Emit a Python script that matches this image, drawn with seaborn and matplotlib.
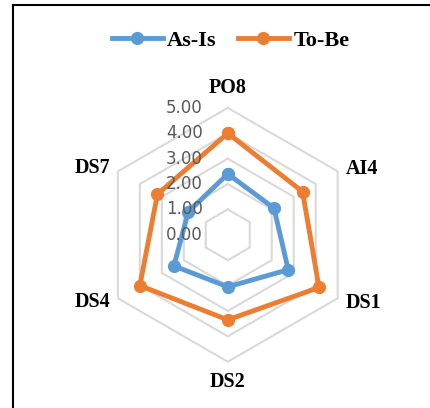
import numpy as np
import pandas as pd
import matplotlib
matplotlib.use("Agg")
import matplotlib.pyplot as plt
from matplotlib.lines import Line2D
import seaborn as sns

# data
categories = ["PO8", "AI4", "DS1", "DS2", "DS4", "DS7"]
as_is = [2.4, 2.1, 2.75, 2.05, 2.45, 1.8]
to_be = [4.0, 3.4, 4.15, 3.35, 4.0, 3.2]
r_ticks = [0, 1, 2, 3, 4, 5]
series_names = ["As-Is", "To-Be"]
series_colors = ["#5B9BD5", "#ED7D31"]

n = len(categories)
theta = np.linspace(0, 2 * np.pi, n, endpoint=False)
theta_closed = np.append(theta, 2 * np.pi)

rows = []
for name, vals in zip(series_names, [as_is, to_be]):
    for t, v in zip(theta_closed, vals + vals[:1]):
        rows.append({"series": name, "theta": t, "value": v})
df = pd.DataFrame(rows)

fig = plt.figure(figsize=(4.31, 4.08), dpi=100)
ax = fig.add_axes([0.234, 0.113, 0.589, 0.623], projection="polar")
ax.set_theta_zero_location("N")
ax.set_theta_direction(-1)
ax.grid(False)
ax.spines["polar"].set_visible(False)
ax.patch.set_alpha(0)

# hexagonal grid
for r in r_ticks[1:]:
    ax.plot(theta_closed, [r] * (n + 1), color="#D9D9D9", lw=1.5,
            zorder=1, clip_on=False)

sns.lineplot(data=df, x="theta", y="value", hue="series",
             palette=dict(zip(series_names, series_colors)),
             sort=False, estimator=None, marker="o", markersize=9.5,
             markeredgewidth=0, linewidth=3.5, legend=False, ax=ax)
for line in ax.lines[-2:]:
    line.set_clip_on(False)

ax.set_ylim(0, 5)
ax.set_xticks([])
ax.set_yticks([])
ax.set_xlabel("")
ax.set_ylabel("")

for v in r_ticks:
    ax.annotate(f"{v:.2f}", xy=(0, v), xytext=(-18, 0),
                textcoords="offset points", ha="right", va="center",
                fontsize=12, color="#595959", family="DejaVu Sans",
                zorder=10, annotation_clip=False)

# category labels sit just outside the outer hexagon, Excel style
label_place = {
    "PO8": ((0, 20), "center"),
    "AI4": ((8, 2), "left"),
    "DS1": ((8, -5), "left"),
    "DS2": ((0, -20), "center"),
    "DS4": ((-8, -4), "right"),
    "DS7": ((-8, 3), "right"),
}
for t, cat in zip(theta, categories):
    off, ha = label_place[cat]
    ax.annotate(cat, xy=(t, 5), xytext=off, textcoords="offset pixels",
                ha=ha, va="center", fontsize=14.5, fontweight="bold",
                family="Liberation Serif", annotation_clip=False)

handles = [Line2D([], [], color=c, lw=3.5, marker="o", markersize=9.5,
                  markeredgewidth=0) for c in series_colors]
fig.legend(handles, series_names, loc="center", bbox_to_anchor=(0.535, 0.9),
           ncol=2, frameon=False, handlelength=2.3, handletextpad=0.2,
           columnspacing=0.95,
           prop={"family": "Liberation Serif", "weight": "bold", "size": 16})

# page border
fig.add_artist(Line2D([13 / 431, 13 / 431], [0, 1 - 4.5 / 408],
                      transform=fig.transFigure, color="black", lw=1.5))
fig.add_artist(Line2D([13 / 431, 1], [1 - 4.5 / 408, 1 - 4.5 / 408],
                      transform=fig.transFigure, color="black", lw=1.5))

fig.savefig("out.png", dpi=100)
